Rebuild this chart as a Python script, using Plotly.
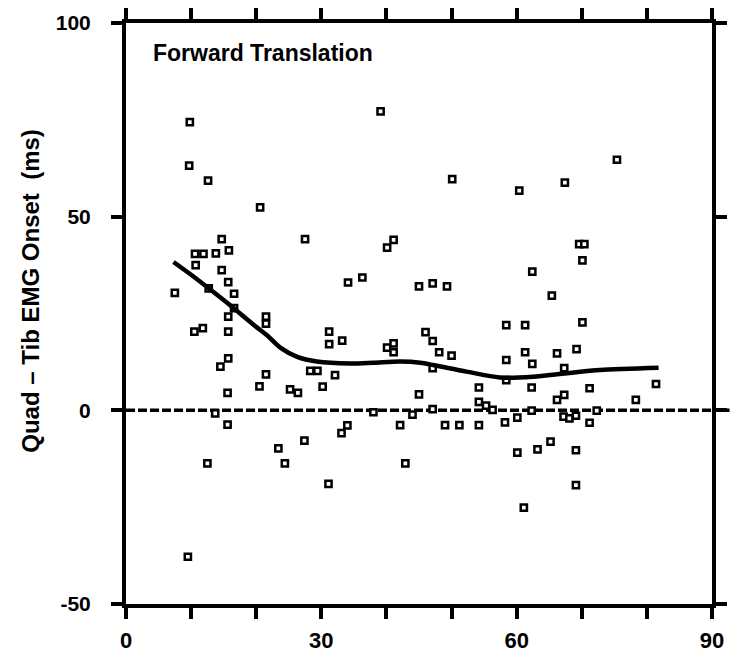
import plotly.graph_objects as go

# Scatter of onset differences (ms) against the x variable
x_points = [
    9.8, 39.1, 9.7, 12.6, 20.6, 50.1, 60.4, 67.4, 75.4, 14.7,
    27.5, 41.1, 40.1, 10.6, 11.9, 13.8, 15.8, 10.7, 14.7, 15.7,
    34.1, 36.3, 45.0, 7.5, 12.7, 16.6, 16.6, 15.7, 21.5, 21.5,
    10.5, 11.8, 15.7, 31.2, 31.2, 33.2, 40.1, 41.1, 41.1, 15.7,
    14.5, 28.3, 29.4, 32.1, 21.5, 20.5, 25.2, 26.4, 30.2, 15.6,
    45.0, 13.7, 38.0, 44.0, 15.6, 34.0, 42.1, 69.6, 70.4, 70.1,
    62.4, 47.1, 49.3, 65.4, 58.4, 61.3, 70.1, 46.0, 47.1, 48.1,
    50.0, 61.3, 62.4, 66.2, 69.2, 58.4, 47.1, 67.3, 58.4, 54.2,
    62.3, 71.2, 81.4, 54.2, 55.3, 56.3, 66.2, 67.3, 78.3, 47.1,
    62.3, 72.3, 60.1, 58.2, 67.2, 68.1, 69.1, 71.2, 49.0, 51.2,
    54.2, 12.5, 23.4, 24.4, 27.4, 31.1, 33.1, 42.9, 9.5, 60.1,
    63.2, 65.2, 69.1, 69.1, 61.1,
]
onset_ms = [
    74.4, 77.2, 63.2, 59.3, 52.4, 59.7, 56.7, 58.8, 64.7, 44.2,
    44.2, 44.0, 42.0, 40.4, 40.4, 40.5, 41.3, 37.5, 36.2, 33.1,
    33.0, 34.3, 32.0, 30.3, 31.5, 30.1, 26.4, 24.2, 24.2, 22.4,
    20.3, 21.2, 20.3, 20.3, 17.1, 18.0, 16.2, 17.3, 15.0, 13.4,
    11.3, 10.2, 10.2, 9.1, 9.3, 6.2, 5.4, 4.5, 6.1, 4.5,
    4.1, -0.8, -0.5, -1.1, -3.7, -3.9, -3.8, 42.9, 42.9, 38.7,
    35.8, 32.8, 32.0, 29.6, 22.0, 22.0, 22.7, 20.2, 17.9, 15.0,
    14.1, 15.0, 12.0, 14.7, 15.8, 13.0, 10.9, 10.9, 7.8, 5.9,
    5.9, 5.7, 6.8, 2.2, 1.2, 0.1, 2.7, 4.0, 2.7, 0.3,
    -0.1, -0.1, -1.9, -3.1, -1.6, -2.1, -1.4, -3.2, -3.8, -3.8,
    -3.8, -13.7, -9.8, -13.7, -7.8, -19.0, -5.9, -13.7, -37.8, -10.9,
    -10.1, -8.1, -10.3, -19.3, -25.1,
]

# Smoothed trend through the scatter
trend_x = [7.3, 10.0, 12.7, 16.6, 19.5, 21.7, 23.7, 26.3, 29.3, 34.4,
           38.0, 42.1, 45.2, 47.2, 52.3, 57.4, 62.5, 67.7, 72.8, 81.8]
trend_y = [38.3, 35.0, 31.5, 26.3, 22.2, 19.3, 16.2, 13.8, 12.6, 12.1,
           12.3, 12.6, 12.3, 11.7, 10.0, 8.5, 8.7, 9.6, 10.4, 11.0]

x_ticks = [0, 10, 20, 30, 40, 50, 60, 70, 80, 90]
x_tick_text = ["0", "", "", "30", "", "", "60", "", "", "90"]
y_ticks = [-50, 0, 50, 100]
y_tick_text = ["-50", "0", "50", "100"]

FONT = "Liberation Sans, Arial, Helvetica, sans-serif"

fig = go.Figure()

fig.add_trace(go.Scatter(
    x=x_points, y=onset_ms, mode="markers",
    marker=dict(symbol="square", size=6.2, color="white",
                line=dict(color="black", width=2.5)),
    showlegend=False, hoverinfo="x+y",
))

fig.add_trace(go.Scatter(
    x=trend_x, y=trend_y, mode="lines",
    line=dict(color="black", width=4.5, shape="spline", smoothing=0.8),
    showlegend=False, hoverinfo="skip",
))

# Dashed zero reference line across the panel
fig.add_shape(type="line", xref="paper", yref="y", x0=0, x1=1.03, y0=0, y1=0,
              line=dict(color="black", width=3.5, dash="9px,3px"), layer="below")

axis_common = dict(
    showline=True, linewidth=4, linecolor="black", mirror="ticks",
    ticks="outside", ticklen=11, tickwidth=3.5, tickcolor="black",
    showgrid=False, zeroline=False, automargin=False,
)

fig.update_xaxes(
    range=[0, 90], tickmode="array", tickvals=x_ticks, ticktext=x_tick_text,
    tickfont=dict(family=FONT, size=22, color="black", weight="bold"),
    ticklabelstandoff=3, **axis_common,
)
fig.update_yaxes(
    range=[-50, 100], tickmode="array", tickvals=y_ticks, ticktext=y_tick_text,
    tickfont=dict(family=FONT, size=21, color="black", weight="bold"),
    ticklabelstandoff=16, **axis_common,
)

fig.add_annotation(
    text="Forward Translation", xref="paper", yref="paper",
    x=0.043, y=0.948, xanchor="left", yanchor="middle", showarrow=False,
    font=dict(family=FONT, size=23, color="black", weight="bold"),
)
fig.add_annotation(
    text="Quad – Tib EMG Onset  (ms)", xref="paper", yref="paper",
    x=-0.163, y=0.54, xanchor="center", yanchor="middle", textangle=-90,
    showarrow=False,
    font=dict(family=FONT, size=24, color="black", weight="bold"),
)

fig.update_layout(
    width=746, height=659,
    margin=dict(l=126, r=34, t=23, b=55),
    paper_bgcolor="white", plot_bgcolor="white",
)

fig.write_html("out.html")
